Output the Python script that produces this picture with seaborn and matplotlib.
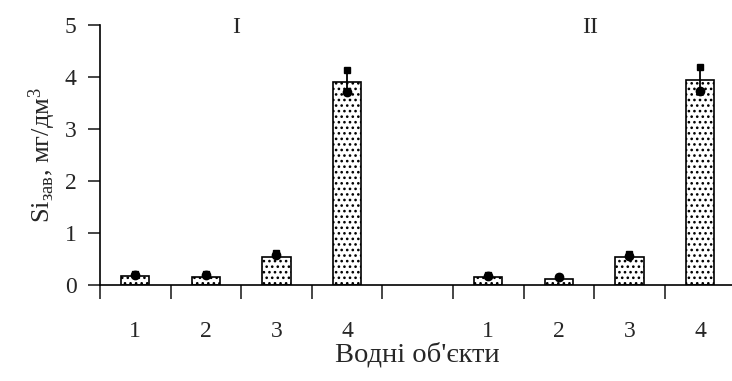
import numpy as np
import pandas as pd
import matplotlib
matplotlib.use("Agg")
import matplotlib.pyplot as plt
import seaborn as sns

sns.set_style("white")
plt.rcParams['font.family'] = ['Liberation Serif', 'DejaVu Serif']
plt.rcParams['mathtext.fontset'] = 'custom'
plt.rcParams['mathtext.rm'] = 'Liberation Serif'
plt.rcParams['mathtext.it'] = 'Liberation Serif'
plt.rcParams['hatch.linewidth'] = 1.1

# data
groups = ["I", "II"]
objects = ["1", "2", "3", "4"]
mean_I = [0.18, 0.15, 0.54, 3.91]
mean_II = [0.15, 0.12, 0.53, 3.94]
max_I = [0.22, 0.21, 0.62, 4.13]
max_II = [0.19, 0.16, 0.60, 4.20]
min_I = [0.20, 0.19, 0.57, 3.71]
min_II = [0.17, 0.15, 0.56, 3.73]

slots = [g + "-" + o for g in groups for o in objects]
order = slots[:4] + ["gap"] + slots[4:]
df = pd.DataFrame({"slot": slots, "value": mean_I + mean_II})
highs = max_I + max_II
lows = min_I + min_II

fig = plt.figure(figsize=(7.32, 3.81), dpi=100)
ax = fig.add_axes([0.1366, 0.252, 0.868, 0.682])

sns.barplot(data=df, x="slot", y="value", order=order, width=0.4,
            color="white", edgecolor="black", linewidth=1.2, hatch="...",
            ax=ax)

pos = [order.index(s) for s in slots]
ax.vlines(pos, lows, highs, color="black", lw=1.3, zorder=5)
ax.plot(pos, highs, ls="none", marker="s", ms=5, color="black", zorder=6)
ax.plot(pos, lows, ls="none", marker="o", ms=6, color="black", zorder=6)

ax.set_xlim(-0.5, len(order) - 0.5)
ax.set_ylim(0, 5)
ax.set_yticks(np.arange(0, 6, 1))
ax.set_xticks(np.arange(-0.5, len(order), 1))
ax.set_xticklabels([])
ax.set_xticks(range(len(order)), minor=True)
ax.set_xticklabels([s.split("-")[-1] if s != "gap" else "" for s in order],
                   minor=True)
ax.tick_params(axis="x", which="major", direction="out", length=10,
               width=1.2, bottom=True)
ax.tick_params(axis="x", which="minor", length=0, pad=26, labelsize=17)
ax.tick_params(axis="y", direction="out", length=9, width=1.2, left=True,
               pad=8, labelsize=17)

for side in ["top", "right"]:
    ax.spines[side].set_visible(False)
for side in ["left", "bottom"]:
    ax.spines[side].set_color("black")
    ax.spines[side].set_linewidth(1.2)

ax.text(1.43, 4.96, "I", ha="center", va="center", fontsize=17)
ax.text(6.44, 4.96, "II", ha="center", va="center", fontsize=17)

ax.set_xlabel("Водні об'єкти", fontsize=20.5, labelpad=0)
ax.set_ylabel(r"Si$_{\mathrm{зав}}$, мг/дм$^{3}$", fontsize=19, labelpad=5)

fig.savefig("out.png", dpi=100)
